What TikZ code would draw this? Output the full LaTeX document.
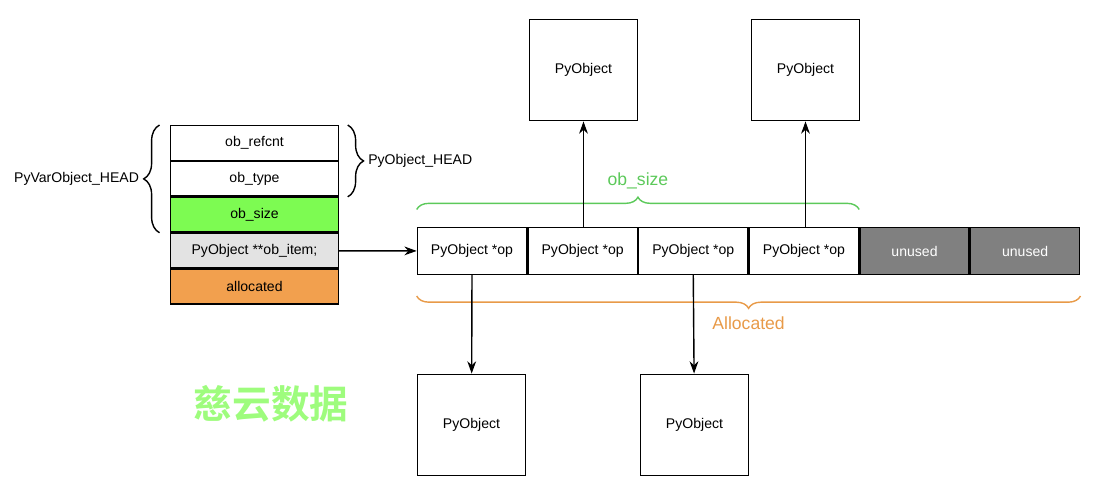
\documentclass[tikz,border=0pt]{standalone}
\usepackage{fontspec}
\setmainfont{Liberation Sans}
\newfontfamily\cjk{Noto Sans CJK SC}[BoldFont={Noto Sans CJK SC Bold}]
\usetikzlibrary{positioning,decorations.pathreplacing,arrows.meta}
\definecolor{sizegreen}{HTML}{7DFB52}
\definecolor{itemgray}{HTML}{E3E3E3}
\definecolor{allocorange}{HTML}{F2A04E}
\definecolor{unusedgray}{HTML}{808080}
\definecolor{labelgreen}{HTML}{5CC95A}
\definecolor{labelorange}{HTML}{E89A48}
\tikzset{
  field/.style={draw, minimum width=3.35cm, minimum height=0.69cm, inner sep=0pt, font=\fontsize{8}{10}\selectfont},
  cell/.style={draw, minimum width=2.185cm, minimum height=0.93cm, inner sep=0pt, font=\fontsize{8}{10}\selectfont},
  obj/.style={draw, minimum width=2.15cm, minimum height=2.03cm, inner sep=0pt, font=\fontsize{8}{10}\selectfont},
  brace/.style={decorate, decoration={brace, amplitude=#1}, thick},
}
\begin{document}
\begin{tikzpicture}[>={Stealth[length=7pt,width=5pt]}, thick, x=0.02cm, y=-0.02cm]
  \useasboundingbox (0,0) rectangle (1100,500);
  % object header
  \node[field] (refcnt) at (254.5,143) {ob\_refcnt};
  \node[field, below=0pt of refcnt] (type) {ob\_type};
  \node[field, fill=sizegreen, below=0pt of type] (size) {ob\_size};
  \node[field, fill=itemgray, below=0pt of size] (item) {PyObject **ob\_item;};
  \node[field, fill=allocorange, below=0pt of item] (alloc) {allocated};
  \draw[brace=9pt] ([xshift=-6pt]size.south west) -- ([xshift=-6pt]refcnt.north west)
    node[midway, left=8pt] (varhead) {\fontsize{8}{10}\selectfont PyVarObject\_HEAD};
  \draw[brace=9pt] ([xshift=5pt]refcnt.north east) -- ([xshift=5pt]type.south east)
    node[midway, right=8pt] (objhead) {\fontsize{8}{10}\selectfont PyObject\_HEAD};
  % item array
  \node[cell] (op1) at (472,251) {PyObject *op};
  \node[cell, right=0pt of op1] (op2) {PyObject *op};
  \node[cell, right=0pt of op2] (op3) {PyObject *op};
  \node[cell, right=0pt of op3] (op4) {PyObject *op};
  \node[cell, fill=unusedgray, text=white, right=0pt of op4] (un1) {unused};
  \node[cell, fill=unusedgray, text=white, right=0pt of un1] (un2) {unused};
  \draw[->] (item) -- (op1);
  \draw[brace=7pt, labelgreen] ([yshift=10pt]op1.north west) -- ([yshift=10pt]op4.north east)
    node[midway, above=8pt, font=\fontsize{10}{12}\selectfont] (sizelabel) {ob\_size};
  \draw[brace=7pt, labelorange] ([yshift=-12pt]un2.south east) -- ([yshift=-12pt]op1.south west)
    node[midway, below=8pt, font=\fontsize{10}{12}\selectfont] (alloclabel) {Allocated};
  % objects
  \node[obj] (top1) at (583.5,70) {PyObject};
  \node[obj] (top2) at (805.5,70) {PyObject};
  \node[obj] (bot1) at (471.5,425) {PyObject};
  \node[obj] (bot2) at (694.5,425) {PyObject};
  \draw[->] (op1.south) -- (bot1);
  \draw[->] (op3.south) -- (bot2);
  \draw[->] (op1.north east -| top1) -- (top1);
  \draw[->] (op3.north east -| top2) -- (top2);
  % watermark
  \node[text=sizegreen!75, font=\cjk\bfseries\fontsize{22}{24}\selectfont] (mark) at (271,404) {慈云数据};
\end{tikzpicture}
\end{document}
